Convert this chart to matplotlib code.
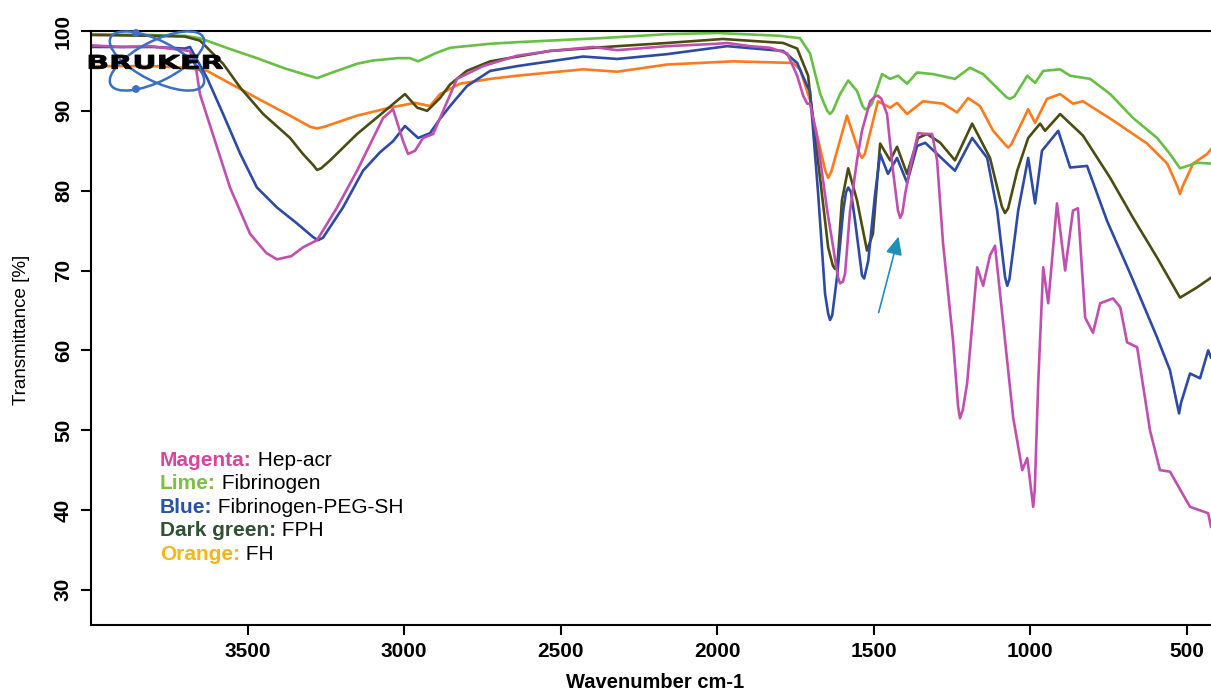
import matplotlib
matplotlib.use("Agg")
import matplotlib.pyplot as plt
from matplotlib.patches import Ellipse, Circle, PathPatch
from matplotlib.textpath import TextPath
from matplotlib.font_manager import FontProperties
from matplotlib.transforms import Affine2D

plt.rcParams['font.family'] = ['Liberation Sans', 'DejaVu Sans']

# Magenta: Hep-acr
hep_wn = [4000, 3900, 3811, 3750, 3684, 3665, 3652, 3597, 3556, 3492, 3440, 3406, 3360, 3323,
          3278, 3214, 3150, 3067, 3035, 3003, 2987, 2965, 2939, 2907, 2875, 2831, 2748, 2639,
          2534, 2396, 2319, 2160, 2000, 1968, 1895, 1831, 1776, 1744, 1725, 1712, 1703, 1680,
          1648, 1629, 1614, 1607, 1598, 1591, 1575, 1553, 1537, 1511, 1495, 1486, 1475, 1457,
          1438, 1422, 1415, 1408, 1399, 1383, 1358, 1329, 1313, 1297, 1278, 1246, 1230, 1224,
          1215, 1201, 1169, 1150, 1128, 1112, 1054, 1025, 1009, 995, 990, 985, 974, 958, 942,
          914, 888, 863, 847, 824, 799, 776, 735, 712, 690, 658, 617, 585, 553, 489, 431, 422]
hep_t = [98.2, 98.0, 98.1, 97.8, 97.5, 95.5, 92.1, 85.4, 80.4, 74.6, 72.2, 71.4, 71.8, 72.9,
         73.8, 77.9, 82.5, 89.1, 90.2, 86.2, 84.6, 85.0, 86.6, 87.1, 90.0, 94.0, 95.6, 96.9,
         97.5, 98.0, 97.6, 98.1, 98.4, 98.5, 98.1, 97.9, 97.2, 94.4, 91.9, 90.9, 90.9, 86.6,
         77.5, 72.9, 69.2, 68.4, 68.6, 69.6, 77.5, 83.8, 87.5, 91.2, 91.8, 91.9, 91.5, 89.6,
         82.5, 77.5, 76.6, 77.2, 79.6, 82.9, 87.2, 87.1, 87.1, 83.8, 73.4, 61.2, 53.0, 51.5,
         52.5, 55.9, 70.4, 68.1, 71.9, 73.1, 51.6, 45.0, 46.5, 42.0, 40.4, 42.5, 55.9, 70.4,
         65.9, 78.4, 70.0, 77.5, 77.8, 64.1, 62.2, 65.9, 66.5, 65.4, 61.0, 60.4, 50.0, 45.0,
         44.8, 40.4, 39.6, 37.9]

# Lime: Fibrinogen
fib_wn = [4000, 3800, 3700, 3652, 3560, 3470, 3380, 3278, 3215, 3150, 3100, 3020, 2981, 2955,
          2900, 2853, 2725, 2639, 2374, 2160, 2000, 1800, 1735, 1703, 1671, 1661, 1648, 1639,
          1630, 1607, 1581, 1553, 1535, 1527, 1518, 1505, 1473, 1447, 1422, 1393, 1361, 1310,
          1240, 1192, 1150, 1096, 1075, 1064, 1050, 1009, 984, 958, 904, 872, 808, 744, 671,
          594, 553, 521, 466, 422]
fib_t = [99.6, 99.5, 99.4, 99.1, 97.8, 96.6, 95.3, 94.1, 95.0, 95.9, 96.3, 96.6, 96.6, 96.2,
         97.2, 97.9, 98.4, 98.6, 99.1, 99.6, 99.75, 99.4, 99.1, 97.2, 92.2, 91.2, 90.0, 89.6,
         90.0, 92.1, 93.8, 92.5, 90.6, 90.2, 90.3, 90.9, 94.6, 94.0, 94.4, 93.4, 94.8, 94.6,
         94.0, 95.4, 94.6, 92.5, 91.7, 91.5, 91.8, 94.4, 93.5, 95.0, 95.2, 94.4, 94.0, 92.1,
         89.1, 86.6, 84.6, 82.8, 83.5, 83.4]

# Blue: Fibrinogen-PEG-SH
peg_wn = [4000, 3800, 3700, 3684, 3629, 3578, 3523, 3470, 3406, 3342, 3291, 3275, 3259, 3195,
          3131, 3077, 3035, 2997, 2955, 2917, 2885, 2853, 2799, 2725, 2639, 2428, 2319, 2160,
          1968, 1789, 1744, 1712, 1703, 1677, 1655, 1645, 1639, 1632, 1617, 1597, 1588, 1581,
          1572, 1559, 1537, 1530, 1517, 1495, 1479, 1454, 1425, 1393, 1361, 1335, 1297, 1240,
          1185, 1137, 1105, 1080, 1073, 1066, 1038, 1006, 984, 962, 910, 872, 818, 754, 680,
          594, 553, 530, 524, 518, 489, 457, 431, 422]
peg_t = [98.0, 98.0, 97.8, 98.0, 94.1, 89.6, 84.6, 80.4, 77.9, 75.9, 74.2, 73.8, 74.1, 77.9,
         82.5, 84.8, 86.2, 88.1, 86.6, 87.2, 89.0, 90.6, 93.1, 95.0, 95.6, 96.8, 96.5, 97.1,
         98.1, 97.5, 96.0, 93.1, 92.5, 79.6, 67.1, 64.6, 63.8, 64.4, 69.1, 77.5, 79.8, 80.4,
         79.8, 76.2, 69.4, 69.0, 71.2, 79.6, 84.6, 82.1, 84.1, 81.0, 85.6, 86.0, 84.6, 82.5,
         86.6, 84.1, 77.5, 69.2, 68.1, 68.9, 77.5, 84.1, 78.4, 85.0, 87.5, 82.9, 83.1, 76.2,
         69.6, 61.6, 57.5, 53.2, 52.1, 53.4, 57.1, 56.5, 60.0, 59.1]

# Dark green: FPH
fph_wn = [4000, 3800, 3700, 3652, 3578, 3523, 3450, 3364, 3323, 3290, 3278, 3265, 3236, 3150,
          3067, 2997, 2958, 2926, 2885, 2853, 2800, 2725, 2534, 2319, 2160, 1981, 1789, 1744,
          1709, 1703, 1671, 1645, 1630, 1623, 1614, 1601, 1581, 1553, 1521, 1502, 1479, 1447,
          1425, 1393, 1358, 1329, 1287, 1240, 1185, 1128, 1090, 1080, 1070, 1041, 1006, 968,
          952, 904, 831, 744, 671, 594, 521, 466, 422]
fph_t = [99.5, 99.4, 99.3, 98.8, 95.9, 92.9, 89.6, 86.6, 84.6, 83.2, 82.6, 82.8, 83.8, 87.1,
         89.8, 92.1, 90.4, 90.0, 91.6, 93.3, 95.0, 96.2, 97.5, 98.1, 98.5, 99.0, 98.5, 97.8,
         94.4, 92.1, 81.6, 72.9, 70.6, 70.2, 71.5, 78.8, 82.8, 78.8, 72.5, 74.6, 85.9, 83.8,
         85.5, 82.1, 86.6, 87.1, 86.0, 83.8, 88.4, 84.1, 78.0, 77.2, 77.8, 82.5, 86.6, 88.4,
         87.5, 89.6, 86.9, 81.6, 76.6, 71.6, 66.6, 67.9, 69.1]

# Orange: FH
fh_wn = [4000, 3800, 3700, 3629, 3470, 3364, 3300, 3278, 3255, 3150, 3045, 2965, 2917, 2885,
         2821, 2725, 2639, 2428, 2319, 2160, 1949, 1757, 1735, 1700, 1693, 1655, 1645, 1635,
         1585, 1545, 1537, 1528, 1486, 1447, 1425, 1393, 1342, 1278, 1233, 1198, 1160, 1118,
         1080, 1070, 1060, 1006, 984, 946, 904, 863, 831, 735, 626, 562, 530, 521, 512, 479,
         434, 422]
fh_t = [95.6, 95.6, 95.4, 95.0, 91.6, 89.4, 88.0, 87.8, 88.0, 89.4, 90.4, 91.0, 90.6, 92.1,
        93.4, 94.0, 94.4, 95.2, 94.9, 95.8, 96.2, 96.0, 95.2, 91.0, 89.1, 82.6, 81.6, 82.4,
        89.4, 84.6, 84.1, 84.6, 91.2, 90.4, 91.0, 89.6, 91.2, 90.9, 89.8, 91.6, 90.6, 87.5,
        85.8, 85.4, 85.8, 90.2, 88.5, 91.5, 92.1, 90.9, 91.2, 88.8, 85.9, 83.4, 80.6, 79.6,
        80.6, 83.4, 84.6, 85.2]

legend_keys = ['Magenta:', 'Lime:', 'Blue:', 'Dark green:', 'Orange:']
legend_names = ['Hep-acr', 'Fibrinogen', 'Fibrinogen-PEG-SH', 'FPH', 'FH']
legend_colors = ['#d6479a', '#7cc043', '#2753a5', '#2f5233', '#f7b516']

W, H = 1211, 691
fig = plt.figure(figsize=(W / 100, H / 100), dpi=100)
ax = fig.add_axes([91 / W, 1 - 625 / H, 1 - 91 / W, (625 - 31) / H])

lw = 1.9
ax.plot(fh_wn, fh_t, color='#ff7a1a', lw=lw, solid_joinstyle='round')
ax.plot(fib_wn, fib_t, color='#66c043', lw=lw, solid_joinstyle='round')
ax.plot(fph_wn, fph_t, color='#4c4c12', lw=lw, solid_joinstyle='round')
ax.plot(peg_wn, peg_t, color='#2c4aa6', lw=lw, solid_joinstyle='round')
ax.plot(hep_wn, hep_t, color='#c04fb0', lw=lw, solid_joinstyle='round')

ax.set_xlim(4000, 422)
ax.set_ylim(25.6, 99.9)
ax.set_xticks([3500, 3000, 2500, 2000, 1500, 1000, 500])
ax.set_yticks([30, 40, 50, 60, 70, 80, 90, 100])
ax.spines['right'].set_visible(False)
for s in ['left', 'bottom', 'top']:
    ax.spines[s].set_linewidth(1.5)
ax.tick_params(direction='out', length=7, width=1.5, labelsize=15)
ax.tick_params(axis='x', pad=5)
ax.tick_params(axis='y', pad=6)
for lab in ax.get_xticklabels():
    lab.set_fontweight('bold')
for lab in ax.get_yticklabels():
    lab.set_rotation(90)
    lab.set_va('center')
    lab.set_fontweight('bold')

fig.text(655 / W, 1 - 683 / H, 'Wavenumber cm-1', ha='center', va='center',
         fontsize=14.5, fontweight='bold')
fig.text(22 / W, 1 - 330 / H, 'Transmittance [%]', ha='center', va='center',
         fontsize=13.5, rotation=90)

# arrow pointing at the 1420 band
ax.annotate('', xy=(1418, 74.6), xytext=(1486, 64.4),
            arrowprops=dict(arrowstyle='-|>,head_length=1.1,head_width=0.5',
                            color='#1f8fb8', lw=1.2))

# colour key
for i, (k, n, c) in enumerate(zip(legend_keys, legend_names, legend_colors)):
    y = 1 - (460 + i * 23.6) / H
    t1 = fig.text(160 / W, y, k, color=c, fontweight='bold', fontsize=15, va='center')
    ax.annotate(' ' + n, xy=(1, 0), xycoords=t1, va='bottom', ha='left',
                fontsize=15, color='black', annotation_clip=False)

# BRUKER logo
lg = fig.add_axes([88 / W, 1 - 96 / H, 140 / W, 68 / H])
lg.set_xlim(88, 228)
lg.set_ylim(96, 28)
lg.axis('off')
logo_blue = '#3a6fc4'
for ang in (27, -27):
    lg.add_patch(Ellipse((157, 61), 104, 40, angle=ang, fill=False,
                         ec=logo_blue, lw=1.8))
lg.add_patch(Circle((136, 33), 3.2, color=logo_blue))
lg.add_patch(Circle((136, 89), 3.2, color=logo_blue))
tp = TextPath((0, 0), 'BRUKER', size=1,
              prop=FontProperties(family='DejaVu Sans', weight='bold'))
bb = tp.get_extents()
tr = Affine2D().translate(-bb.x0, -bb.y0).scale(134 / bb.width, -14 / bb.height).translate(89, 69)
lg.add_patch(PathPatch(tp, transform=tr + lg.transData, fc='black', ec='black', lw=0.6))

fig.savefig('out.png', dpi=100)
